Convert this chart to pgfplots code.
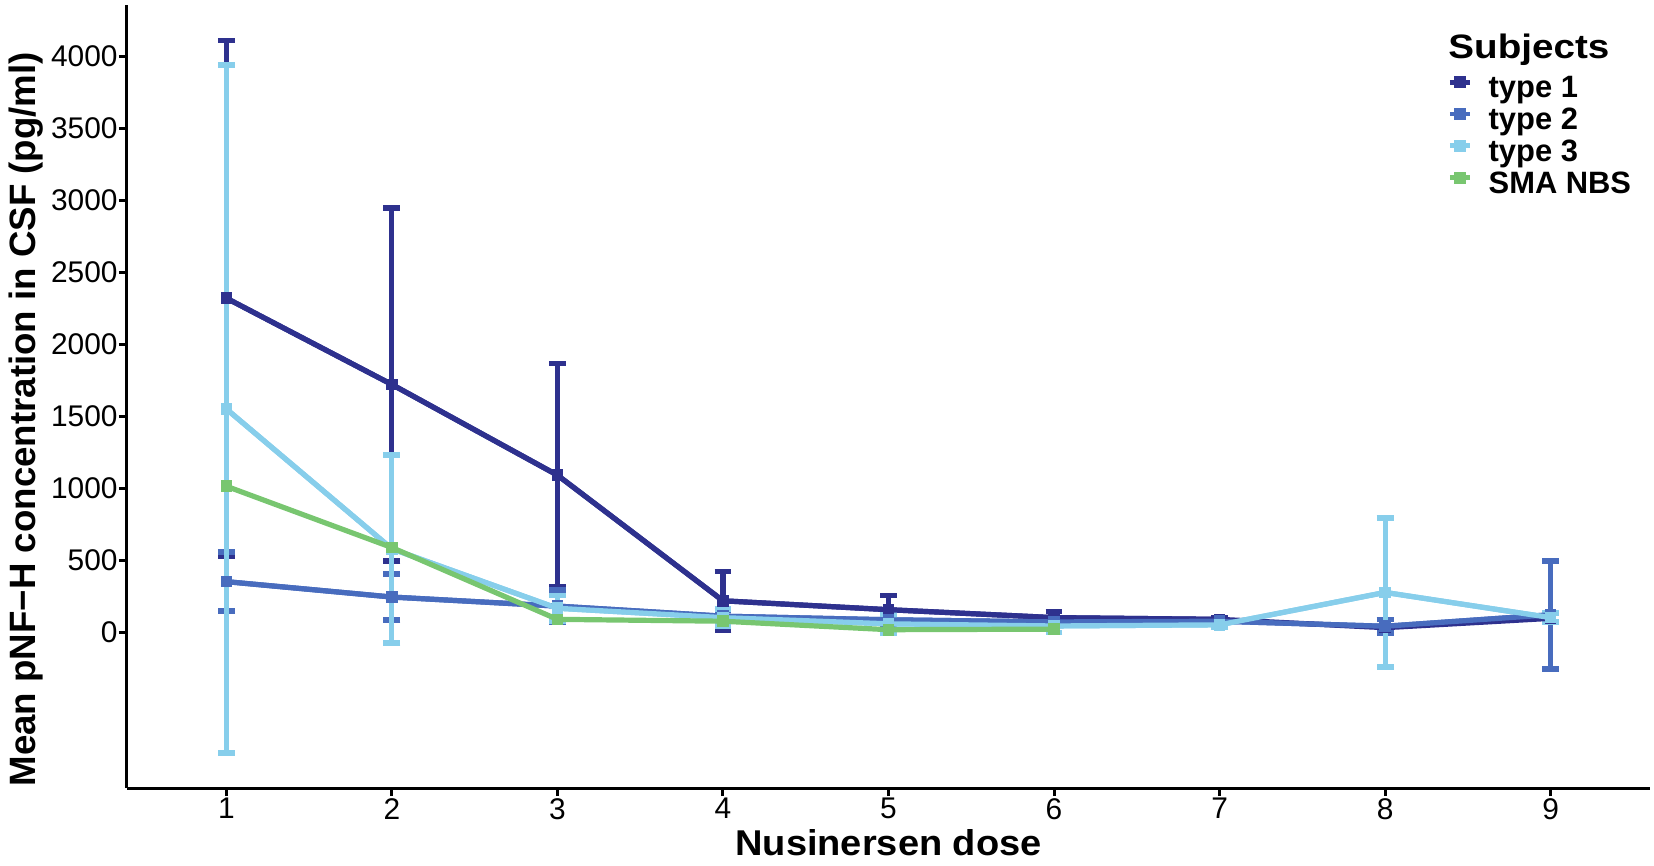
\documentclass[border=0pt]{standalone}
\usepackage{fontspec}
\setmainfont{Liberation Sans}
\newfontfamily\xlabfont[FakeStretch=1.06]{Liberation Sans}
\newfontfamily\titlefont[FakeStretch=1.14]{Liberation Sans}
\usepackage{pgfplots}
\pgfplotsset{compat=1.18}
\definecolor{cA}{RGB}{46,49,142}
\definecolor{cB}{RGB}{72,108,190}
\definecolor{cC}{RGB}{135,206,235}
\definecolor{cD}{RGB}{120,198,112}
\pgfplotstableread{
x y e
1 2320 1790
2 1720 1225
3 1090 775
4 217 204
5 155 100
6 100 43
7 88 10
}\typeAerr
\pgfplotstableread{
x y
1 2320
2 1720
3 1090
4 217
5 155
6 100
7 88
8 30
9 95
}\typeA
\pgfplotstableread{
x y e
1 350 205
2 243 160
3 180 110
4 110 40
5 85 30
6 70 15
7 75 10
8 40 46
9 120 375
}\typeB
\pgfplotstableread{
x y e
1 1550 2390
2 578 653
3 165 90
4 100 60
5 57 62
6 42 46
7 50 18
8 275 517
9 100 32
}\typeC
\pgfplotstableread{
x y
1 1013
2 587
3 88
4 75
5 16
6 20
}\smanbs
\begin{document}
\begin{tikzpicture}
\begin{axis}[
  name=main,
  scale only axis, width=761.5bp, height=391.5bp,
  xmin=0.4, xmax=9.6, ymin=-1084, ymax=4357,
  axis x line*=bottom, axis y line*=left,
  axis line style={line width=1.5bp, black},
  xtick={1,2,...,9}, ytick={0,500,...,4000},
  tick align=outside, major tick length=4bp,
  every tick/.style={line width=1.5bp, black},
  /pgf/number format/assume math mode=true,
  /pgf/number format/1000 sep={},
  ticklabel style={font=\fontsize{15}{15}\selectfont},
  xticklabel style={anchor=north, inner sep=0pt, yshift=-1bp},
  yticklabel style={anchor=east, inner sep=0pt, xshift=-0.5bp},
  xlabel={\bfseries\xlabfont\fontsize{18}{18}\selectfont Nusinersen dose},
  xlabel style={at={(rel axis cs:0.5,-0.0856)}, anchor=base},
  ylabel={\bfseries\fontsize{18.4}{18.4}\selectfont Mean pNF\textminus H concentration in CSF (pg/ml)},
  ylabel style={at={(rel axis cs:-0.0604,0.471)}, anchor=base, rotate=0},
  clip=false,
  legend style={at={(rel axis cs:0.8667,0.9132)}, anchor=north west, draw=none, fill=none,
    inner sep=0pt, row sep=0pt,
    font=\bfseries\fontsize{15.5}{15.5}\selectfont,
    nodes={inner sep=1.25bp, text height=11bp, text depth=2.4bp},
    /tikz/every odd column/.append style={column sep=7bp}},
  legend cell align=left,
  legend image code/.code={
    \draw[#1, line width=2.4bp] (0bp,3.5bp) -- (10bp,3.5bp);
    \fill[#1] (3.4bp,1.8bp) rectangle (6.6bp,5.2bp);
  },
]
% error bars (drawn first)
\addplot[cA, line width=2.6bp, mark=none, forget plot,
  error bars/.cd, y dir=both, y explicit,
  error bar style={line width=2.6bp, cA},
  error mark options={cA, line width=2.8bp, mark size=4.2bp, rotate=90}]
  table[x=x, y=y, y error=e] {\typeAerr};
\addplot[cB, line width=2.6bp, mark=none, forget plot,
  error bars/.cd, y dir=both, y explicit,
  error bar style={line width=2.6bp, cB},
  error mark options={cB, line width=2.8bp, mark size=4.2bp, rotate=90}]
  table[x=x, y=y, y error=e] {\typeB};
\addplot[cC, line width=2.6bp, mark=none, forget plot,
  error bars/.cd, y dir=both, y explicit,
  error bar style={line width=2.6bp, cC},
  error mark options={cC, line width=2.8bp, mark size=4.2bp, rotate=90}]
  table[x=x, y=y, y error=e] {\typeC};
% lines with points
\addplot[cA, line width=2.6bp, mark=square*, mark size=1.6bp] table[x=x, y=y] {\typeA};
\addlegendentry{type 1}
\addplot[cB, line width=2.6bp, mark=square*, mark size=1.6bp] table[x=x, y=y] {\typeB};
\addlegendentry{type 2}
\addplot[cC, line width=2.6bp, mark=square*, mark size=1.6bp] table[x=x, y=y] {\typeC};
\addlegendentry{type 3}
\addplot[cD, line width=2.6bp, mark=square*, mark size=1.6bp] table[x=x, y=y] {\smanbs};
\addlegendentry{SMA NBS}
\node[anchor=base west, inner sep=0pt, font=\bfseries\titlefont\fontsize{17}{17}\selectfont]
  at (rel axis cs:0.8674,0.9319) {Subjects};
\end{axis}
\pgfresetboundingbox
\useasboundingbox ([shift={(-63.5bp,-38.5bp)}]main.south west) rectangle ([shift={(2bp,2.5bp)}]main.north east);
\end{tikzpicture}
\end{document}
